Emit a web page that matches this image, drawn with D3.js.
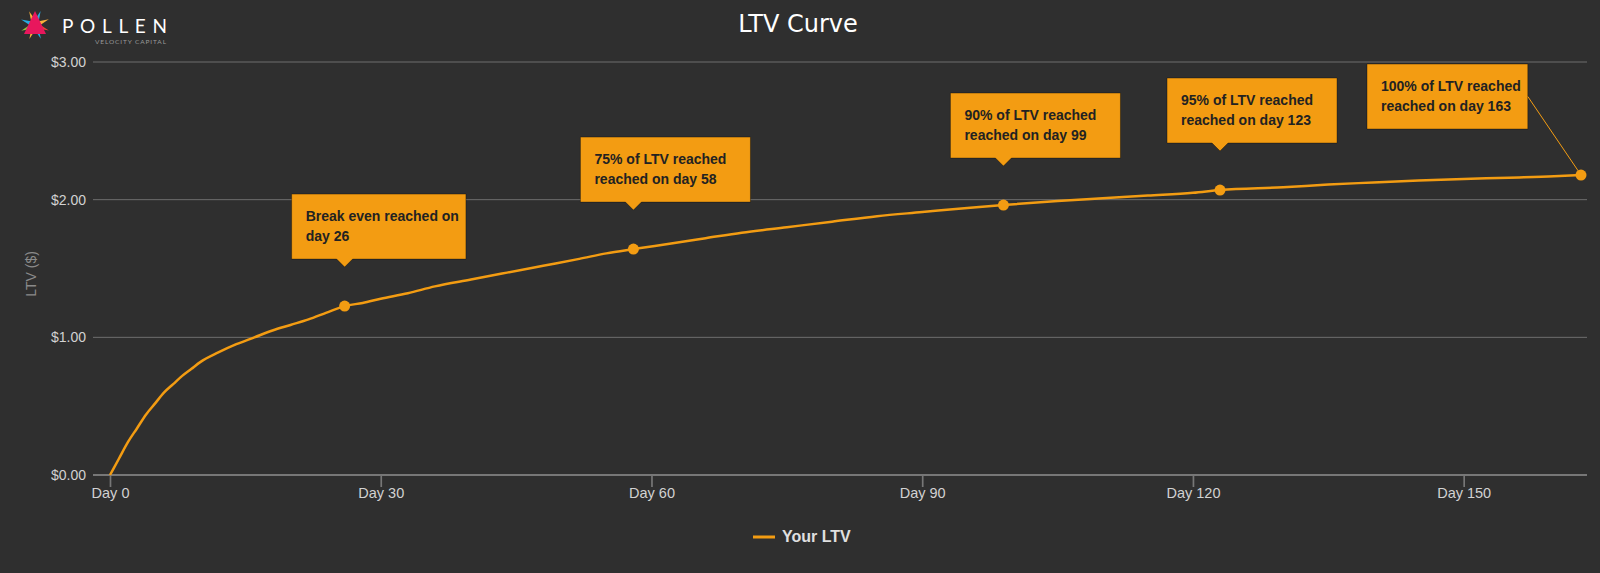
<!DOCTYPE html>
<html>
<head>
<meta charset="utf-8">
<script src="https://cdn.jsdelivr.net/npm/d3@7"></script>
<style>
  body { margin: 0; background: #2f2f2f; }
  svg { display: block; }
</style>
</head>
<body>
<script>
// LTV values (day -> dollars)
var days = [0, 1, 2, 3, 4, 5, 6, 7, 8, 9, 10, 12, 14, 16, 18, 20, 22, 24, 26, 28, 30, 33, 36, 40, 44, 48, 52, 55, 58,
    62, 66, 70, 75, 80, 85, 90, 95, 99, 105, 110, 115, 120, 123, 130, 135, 140, 145, 150, 155, 160, 163];
var ltv = [0, 0.12, 0.24, 0.34, 0.44, 0.52, 0.60, 0.66, 0.72, 0.77, 0.82, 0.89, 0.95, 1.00, 1.05, 1.09, 1.13, 1.18, 1.227, 1.25, 1.28, 1.32, 1.37, 1.42, 1.47, 1.52, 1.57, 1.61, 1.641,
    1.68, 1.72, 1.76, 1.80, 1.84, 1.88, 1.91, 1.94, 1.961, 1.99, 2.01, 2.03, 2.05, 2.07, 2.09, 2.11, 2.125, 2.14, 2.15, 2.16, 2.17, 2.179];

var yTicks = [0, 1, 2, 3];
var xTicks = [0, 30, 60, 90, 120, 150];

var noteDays = [26, 58, 99, 123, 163];
var noteLines = [
    ['Break even reached on', 'day 26'],
    ['75% of LTV reached', 'reached on day 58'],
    ['90% of LTV reached', 'reached on day 99'],
    ['95% of LTV reached', 'reached on day 123'],
    ['100% of LTV reached', 'reached on day 163']
];

var orange = '#f39c12';
var svgWidth = 1600,
    svgHeight = 573;

var svg = d3.select('body').append('svg')
    .attr('width', svgWidth)
    .attr('height', svgHeight);

svg.append('rect')
    .attr('width', svgWidth)
    .attr('height', svgHeight)
    .attr('fill', '#2f2f2f');

var x = d3.scaleLinear().domain([0, 163]).range([110, 1581]);
var y = d3.scaleLinear().domain([0, 3]).range([475, 62]);
var plotLeft = 93, plotRight = 1587;

// grid lines
svg.append('g').selectAll('line')
    .data(yTicks.filter(function(d) { return d > 0; }))
    .enter().append('line')
    .attr('x1', plotLeft).attr('x2', plotRight)
    .attr('y1', function(d) { return y(d); })
    .attr('y2', function(d) { return y(d); })
    .attr('stroke', '#6e6e6e')
    .attr('stroke-width', 1);

// y axis labels
var yAxis = svg.append('g')
    .attr('transform', 'translate(' + plotLeft + ',0)')
    .call(d3.axisLeft(y).tickValues(yTicks).tickFormat(d3.format('$.2f')).tickSize(0).tickPadding(7));
yAxis.select('.domain').remove();
yAxis.selectAll('text')
    .attr('fill', '#d2d2d2')
    .style('font-family', '"Liberation Sans", Arial, sans-serif')
    .style('font-size', '14px');

// x axis
svg.append('line')
    .attr('x1', plotLeft).attr('x2', plotRight)
    .attr('y1', y(0)).attr('y2', y(0))
    .attr('stroke', '#777')
    .attr('stroke-width', 2);

var xAxis = svg.append('g')
    .attr('transform', 'translate(0,' + y(0) + ')')
    .call(d3.axisBottom(x).tickValues(xTicks).tickFormat(function(d) { return 'Day ' + d; }).tickSize(12).tickPadding(1));
xAxis.select('.domain').remove();
xAxis.selectAll('.tick line').attr('stroke', '#777').attr('stroke-width', 1.7);
xAxis.selectAll('text')
    .attr('fill', '#d2d2d2')
    .style('font-family', '"Liberation Sans", Arial, sans-serif')
    .style('font-size', '14.5px');

// y axis title
svg.append('text')
    .attr('transform', 'translate(36,274) rotate(-90)')
    .attr('text-anchor', 'middle')
    .attr('fill', '#8a8a8a')
    .style('font-family', '"Liberation Sans", Arial, sans-serif')
    .style('font-size', '14px')
    .text('LTV ($)');

// chart title
svg.append('text')
    .attr('x', 798).attr('y', 32)
    .attr('text-anchor', 'middle')
    .attr('fill', '#fff')
    .style('font-family', '"DejaVu Sans", Verdana, sans-serif')
    .style('font-size', '24px')
    .text('LTV Curve');

// the curve
var points = days.map(function(d, i) { return {day: d, value: ltv[i]}; });
var line = d3.line()
    .x(function(d) { return x(d.day); })
    .y(function(d) { return y(d.value); })
    .curve(d3.curveMonotoneX);

svg.append('path')
    .datum(points)
    .attr('d', line)
    .attr('fill', 'none')
    .attr('stroke', orange)
    .attr('stroke-width', 2.5);

// annotations
var notes = noteDays.map(function(d, i) {
    return {day: d, value: ltv[days.indexOf(d)], lines: noteLines[i], last: i === noteDays.length - 1};
});

var noteG = svg.append('g').selectAll('g')
    .data(notes)
    .enter().append('g');

noteG.each(function(d) {
    var g = d3.select(this);
    var px = x(d.day), py = y(d.value);
    var boxH = 65;
    var left, top;
    if (d.last) {
        left = px - 214;
        top = py - 111;
    } else {
        left = px - 53;
        top = py - 47 - boxH;
    }

    var shape = g.append('path');
    var link = g.append('line');

    var maxW = 0;
    d.lines.forEach(function(t, k) {
        var txt = g.append('text')
            .attr('x', left + 14)
            .attr('y', top + 26.7 + k * 20)
            .attr('fill', '#222')
            .style('font-family', '"Liberation Sans", Arial, sans-serif')
            .style('font-weight', 'bold')
            .style('font-size', '14px')
            .text(t);
        maxW = Math.max(maxW, txt.node().getComputedTextLength());
    });
    var w = d.last ? maxW + 21 : Math.max(maxW + 21, 170);
    var bottom = top + boxH;

    var p = 'M' + left + ',' + top + 'H' + (left + w) + 'V' + bottom;
    if (!d.last) {
        p += 'H' + (px + 8) + 'L' + px + ',' + (py - 39) + 'L' + (px - 8) + ',' + bottom;
    }
    p += 'H' + left + 'Z';

    shape.attr('d', p)
        .attr('fill', orange)
        .attr('stroke', 'rgba(0,0,0,0.35)')
        .attr('stroke-width', 1);

    if (d.last) {
        link.attr('x1', left + w).attr('y1', top + boxH / 2)
            .attr('x2', px).attr('y2', py)
            .attr('stroke', orange)
            .attr('stroke-width', 1);
    }
});

svg.append('g').selectAll('circle')
    .data(notes)
    .enter().append('circle')
    .attr('cx', function(d) { return x(d.day); })
    .attr('cy', function(d) { return y(d.value); })
    .attr('r', 5.5)
    .attr('fill', orange);

// legend
svg.append('line')
    .attr('x1', 753).attr('x2', 775)
    .attr('y1', 537).attr('y2', 537)
    .attr('stroke', orange)
    .attr('stroke-width', 3);
svg.append('text')
    .attr('x', 782).attr('y', 542)
    .attr('fill', '#e0e0e0')
    .style('font-family', '"Liberation Sans", Arial, sans-serif')
    .style('font-weight', 'bold')
    .style('font-size', '16px')
    .text('Your LTV');

// logo
var logo = svg.append('g').attr('transform', 'translate(35,25)');
var petalColors = ['#29abe2', '#fbb03b', '#ef4136', '#29abe2', '#fbb03b', '#8cc63f', '#29abe2', '#fbb03b'];
logo.selectAll('path.petal')
    .data(petalColors)
    .enter().append('path')
    .attr('class', 'petal')
    .attr('d', 'M-3,0L0,-15L3,0Z')
    .attr('transform', function(d, i) { return 'rotate(' + (i * 45 + 22) + ')'; })
    .attr('fill', function(d) { return d; });
logo.append('path')
    .attr('d', 'M0,-14L11,9L-11,9Z')
    .attr('fill', '#e8175d');

svg.append('text')
    .attr('x', 62).attr('y', 33)
    .attr('textLength', 105)
    .attr('lengthAdjust', 'spacing')
    .attr('fill', '#fff')
    .style('font-family', 'Lato, "Open Sans", sans-serif')
    .style('font-size', '19px')
    .text('POLLEN');
svg.append('text')
    .attr('x', 95).attr('y', 44)
    .attr('textLength', 71)
    .attr('lengthAdjust', 'spacing')
    .attr('fill', '#9a9a9a')
    .style('font-family', 'Lato, "Open Sans", sans-serif')
    .style('font-size', '6.5px')
    .text('VELOCITY CAPITAL');
</script>
</body>
</html>
